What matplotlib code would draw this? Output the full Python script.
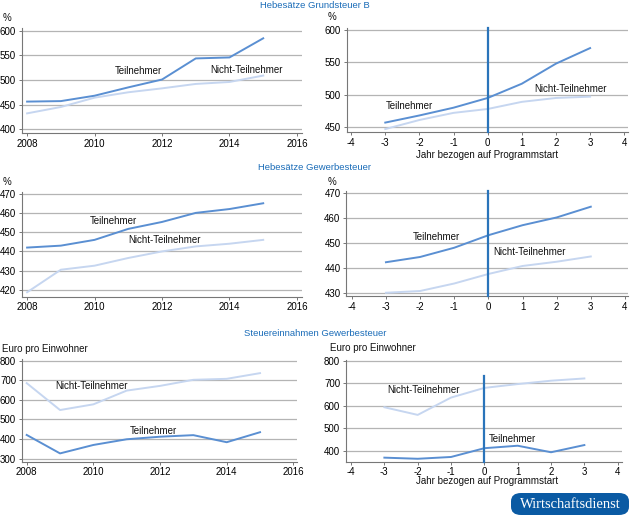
import matplotlib.pyplot as plt
from matplotlib.patches import FancyBboxPatch

plt.rcParams["font.family"] = ["Liberation Sans", "DejaVu Sans"]

# --- data ---------------------------------------------------------------
years = [2008, 2009, 2010, 2011, 2012, 2013, 2014, 2015]
rel_years = [-3, -2, -1, 0, 1, 2, 3]

grund_teil = [456, 457, 468, 485, 501, 544, 546, 585]
grund_nicht = [432, 445, 464, 475, 483, 492, 496, 509]
grund_rel_teil = [457, 468, 480, 495, 517, 548, 572]
grund_rel_nicht = [447, 461, 472, 478, 489, 495, 497]

gew_teil = [442, 443, 446, 451.7, 455.3, 460, 462, 465]
gew_nicht = [418.8, 430.5, 432.6, 436.6, 440, 442.6, 444, 446]
gew_rel_teil = [442.4, 444.5, 448.2, 453.2, 457.2, 460.3, 464.6]
gew_rel_nicht = [430.2, 430.9, 433.9, 437.7, 440.9, 442.6, 444.7]

ein_teil = [421, 327, 370, 399, 412, 420, 384, 435]
ein_nicht = [685, 548, 577, 647, 671, 702, 707, 736]
ein_rel_teil = [369, 364, 372, 411, 422, 393, 425]
ein_rel_nicht = [593, 559, 636, 679, 696, 711, 721]

titles = ["Hebesätze Grundsteuer B", "Hebesätze Gewerbesteuer",
          "Steuereinnahmen Gewerbesteuer"]

C_TEIL = "#5a8fd2"
C_NICHT = "#c6d6f0"
C_VLINE = "#2a74ba"
C_TITLE = "#1a6cb8"
C_GRID = "#b4b4b4"
FS = 7

W, H = 630, 518
fig = plt.figure(figsize=(W / 100, H / 100), dpi=100)


def px_axes(left, right, top, bottom):
    return fig.add_axes([left / W, 1 - bottom / H, (right - left) / W, (bottom - top) / H])


def style(ax, yticks, xticks, xlim, ylim):
    ax.set_xlim(*xlim)
    ax.set_ylim(*ylim)
    ax.set_yticks(yticks)
    ax.set_xticks(xticks)
    ax.set_xticklabels([str(t) for t in xticks])
    for s in ["top", "right"]:
        ax.spines[s].set_visible(False)
    for s in ["left", "bottom"]:
        ax.spines[s].set_color("#777777")
        ax.spines[s].set_linewidth(0.8)
    ax.grid(axis="y", color=C_GRID, linewidth=0.9)
    ax.set_axisbelow(True)
    ax.tick_params(labelsize=FS, length=2.5, width=0.7, color="#777777", pad=1.5)


def label(ax, x, y, text):
    ax.text(x, y, text, ha="center", va="center", fontsize=FS, color="#111111")


panels = [
    # (left, right, top, bottom), x, teil, nicht, yticks, xticks, xlim, ylim, labels, vline_top
    ((21.7, 302, 28, 133), years, grund_teil, grund_nicht, [400, 450, 500, 550, 600],
     [2008, 2010, 2012, 2014, 2016], (2007.84, 2016.15), (392, 606),
     [(2011.3, 519, "Teilnehmer"), (2014.5, 520, "Nicht-Teilnehmer")], None),
    ((346.7, 628, 28, 132.3), rel_years, grund_rel_teil, grund_rel_nicht, [450, 500, 550, 600],
     list(range(-4, 5)), (-4.13, 4.11), (442, 603),
     [(-2.3, 482, "Teilnehmer"), (2.42, 509, "Nicht-Teilnehmer")], 603),
    ((21.7, 302, 191.7, 296.7), years, gew_teil, gew_nicht, [420, 430, 440, 450, 460, 470],
     [2008, 2010, 2012, 2014, 2016], (2007.84, 2016.15), (416.5, 471),
     [(2010.55, 456, "Teilnehmer"), (2012.07, 445.7, "Nicht-Teilnehmer")], None),
    ((346, 628, 190.7, 296), rel_years, gew_rel_teil, gew_rel_nicht, [430, 440, 450, 460, 470],
     list(range(-4, 5)), (-4.17, 4.09), (428.9, 471),
     [(-1.51, 452.5, "Teilnehmer"), (1.21, 446.3, "Nicht-Teilnehmer")], 471),
    ((21.7, 296.7, 359, 461.7), years, ein_teil, ein_nicht, [300, 400, 500, 600, 700, 800],
     [2008, 2010, 2012, 2014, 2016], (2007.85, 2016.1), (284.7, 808),
     [(2011.8, 441, "Teilnehmer"), (2009.95, 672, "Nicht-Teilnehmer")], None),
    ((345.7, 621.7, 360, 461.7), rel_years, ein_rel_teil, ein_rel_nicht, [400, 500, 600, 700, 800],
     list(range(-4, 5)), (-4.16, 4.12), (351, 803),
     [(0.83, 450, "Teilnehmer"), (-1.83, 670, "Nicht-Teilnehmer")], 733),
]

axes = []
for box, x, teil, nicht, yt, xt, xl, yl, labs, vtop in panels:
    ax = px_axes(*box)
    style(ax, yt, xt, xl, yl)
    ax.plot(x, nicht, color=C_NICHT, linewidth=1.4, zorder=3)
    ax.plot(x, teil, color=C_TEIL, linewidth=1.4, zorder=3)
    if vtop is not None:
        ax.plot([0, 0], [yl[0], vtop], color=C_VLINE, linewidth=1.6, zorder=4, clip_on=False)
    for lx, ly, t in labs:
        label(ax, lx, ly, t)
    axes.append(ax)

# unit labels
for (xp, yp, t) in [(3, 18, "%"), (328, 17, "%"), (3, 182, "%"), (328, 182, "%"),
                    (2, 349, "Euro pro Einwohner"), (330, 348, "Euro pro Einwohner")]:
    fig.text(xp / W, 1 - yp / H, t, ha="left", va="center", fontsize=FS, color="#111111")

# x labels on the right-hand panels
for yp in [155, 481.5]:
    fig.text(487 / W, 1 - yp / H, "Jahr bezogen auf Programmstart", ha="center", va="center",
             fontsize=FS, color="#111111")

# section titles
for yp, t in zip([5, 168, 333], titles):
    fig.text(315 / W, 1 - yp / H, t, ha="center", va="center", fontsize=6.8, color=C_TITLE)

# logo
logo = FancyBboxPatch((511 / W, 1 - 515 / H), 118 / W, 22 / H,
                      boxstyle="round,pad=0,rounding_size=0.016",
                      transform=fig.transFigure, facecolor="#0a5aa3", edgecolor="none")
fig.patches.append(logo)
fig.text(570 / W, 1 - 504.5 / H, "Wirtschaftsdienst", ha="center", va="center",
         fontsize=10.5, color="white", family=["Liberation Serif", "DejaVu Serif"])

fig.savefig("out.png", dpi=100)
